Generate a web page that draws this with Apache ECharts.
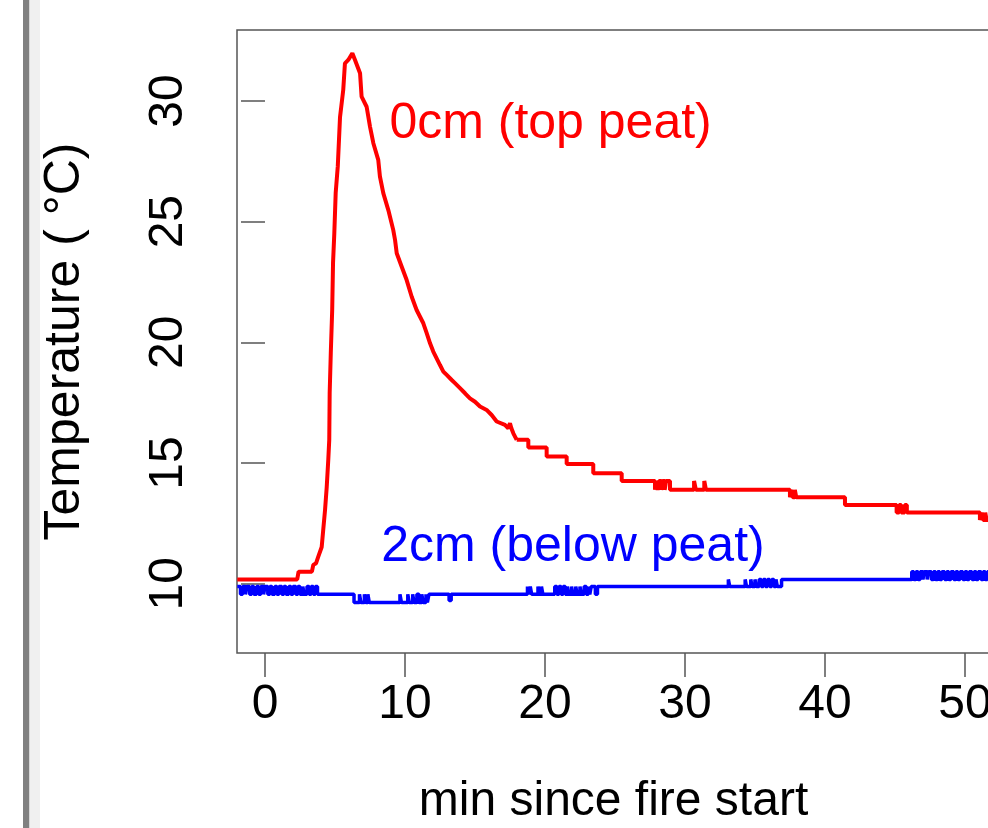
<!DOCTYPE html>
<html>
<head>
<meta charset="utf-8">
<script src="https://cdn.jsdelivr.net/npm/echarts@6/dist/echarts.min.js"></script>
<style>
  html, body { margin: 0; padding: 0; overflow: hidden; background: #ffffff; }
  #chart { width: 1000px; height: 828px; }
</style>
</head>
<body>
<div id="chart"></div>
<script>
// Peat surface (0 cm) temperature, [minutes since fire start, °C]:
// warm-up, flame peak and fast cooling
const topPeatRise = [
  [-1.98, 10.18], [2.30, 10.18], [2.40, 10.50], [3.35, 10.50], [3.45, 10.78],
  [3.65, 10.85], [3.80, 11.11], [4.05, 11.52], [4.16, 12.23], [4.29, 13.06],
  [4.41, 14.01], [4.52, 15.13], [4.59, 15.96], [4.62, 17.90], [4.70, 19.56],
  [4.80, 21.34], [4.86, 23.29], [4.95, 24.50], [5.05, 26.19], [5.20, 27.30],
  [5.36, 29.34], [5.59, 30.46], [5.71, 31.56], [5.95, 31.70], [6.24, 31.98],
  [6.43, 31.70], [6.79, 31.15], [6.90, 30.18], [7.26, 29.76], [7.50, 28.94],
  [7.74, 28.25], [8.09, 27.56], [8.21, 26.87], [8.45, 26.18], [8.81, 25.48],
  [9.16, 24.66], [9.29, 24.24], [9.41, 23.69], [9.76, 23.14], [10.12, 22.58],
  [10.48, 21.89], [10.83, 21.34], [11.31, 20.79], [11.55, 20.38], [11.79, 19.96],
  [12.02, 19.62], [12.26, 19.34], [12.50, 19.06], [12.74, 18.79], [12.98, 18.65],
  [13.34, 18.44], [13.57, 18.31], [13.93, 18.10], [14.29, 17.89], [14.64, 17.68],
  [15.00, 17.54], [15.36, 17.34], [15.83, 17.20], [16.19, 16.99], [16.55, 16.72],
  [17.14, 16.58], [17.38, 16.44], [17.50, 16.65], [17.60, 16.44], [17.74, 16.23],
  [17.98, 15.96]
];

// Peat surface (0 cm), slow cooling: logger steps, each value held until the next reading
const topPeatTail = [
  [17.98, 15.96], [18.81, 15.64], [20.12, 15.27], [21.55, 14.96], [23.45, 14.58],
  [25.48, 14.26], [27.86, 13.89], [27.95, 14.26], [28.05, 13.89], [28.15, 14.26],
  [28.30, 13.89], [28.40, 14.26], [28.55, 13.89], [28.65, 14.26], [28.93, 13.89],
  [30.65, 14.26], [30.78, 13.89], [31.38, 14.26], [31.50, 13.89],
  [37.50, 13.58], [37.60, 13.89], [37.70, 13.58], [37.85, 13.89], [37.95, 13.58],
  [41.43, 13.26], [45.12, 12.95], [45.30, 13.26], [45.45, 12.95], [45.70, 13.26],
  [45.85, 12.95], [51.07, 12.64], [51.20, 12.95], [51.30, 12.64], [51.45, 12.95],
  [51.55, 12.64], [51.79, 12.64]
];

// Mineral layer below the peat (2 cm), [minutes since fire start, °C]
const belowPeat = [
  [-1.98, 9.88], [-1.75, 9.56], [-1.60, 9.88], [-1.40, 9.56], [-1.30, 9.88],
  [-1.10, 9.56], [-0.95, 9.88], [-0.80, 9.56], [-0.60, 9.88], [-0.45, 9.56],
  [-0.30, 9.88], [-0.10, 9.56], [0.00, 9.88], [0.20, 9.56], [0.35, 9.88],
  [0.50, 9.56], [0.70, 9.88], [0.85, 9.56], [1.00, 9.88], [1.20, 9.56],
  [1.35, 9.88], [1.50, 9.56], [1.70, 9.88], [1.85, 9.56], [2.00, 9.88],
  [2.20, 9.56], [2.35, 9.88], [2.50, 9.56], [2.70, 9.88], [2.80, 9.56],
  [3.00, 9.88], [3.15, 9.56], [3.30, 9.88], [3.45, 9.56], [3.60, 9.88],
  [3.75, 9.56], [6.36, 9.22], [6.75, 9.56], [6.85, 9.22], [7.10, 9.56],
  [7.20, 9.22], [7.35, 9.56], [7.45, 9.22], [9.64, 9.56], [9.75, 9.22],
  [10.20, 9.56], [10.30, 9.22], [10.55, 9.56], [10.65, 9.22], [10.85, 9.56],
  [11.00, 9.22], [11.20, 9.56], [11.30, 9.22], [11.50, 9.56], [11.60, 9.22],
  [11.71, 9.56], [13.15, 9.30], [13.30, 9.56], [18.75, 9.88], [18.85, 9.56],
  [18.95, 9.88], [19.05, 9.56], [19.50, 9.88], [19.60, 9.56], [19.75, 9.88],
  [19.85, 9.56], [20.70, 9.88], [20.85, 9.56], [21.00, 9.88], [21.15, 9.56],
  [21.30, 9.88], [21.45, 9.56], [21.60, 9.88], [21.70, 9.56], [21.90, 9.88],
  [22.00, 9.56], [22.20, 9.88], [22.30, 9.56], [22.50, 9.88], [22.60, 9.56],
  [22.80, 9.88], [22.95, 9.56], [23.10, 9.88], [23.20, 9.56], [23.30, 9.88],
  [23.60, 9.56], [23.75, 9.88], [33.10, 10.18], [33.20, 9.88], [34.30, 10.18],
  [34.40, 9.88], [34.70, 10.18], [34.80, 9.88], [35.00, 10.18], [35.10, 9.88],
  [35.30, 10.18], [35.45, 9.88], [35.60, 10.18], [35.75, 9.88], [35.90, 10.18],
  [36.05, 9.88], [36.20, 10.18], [36.35, 9.88], [36.50, 10.18], [36.60, 9.88],
  [36.90, 10.18], [46.20, 10.50], [46.35, 10.18], [46.50, 10.50], [46.65, 10.18],
  [46.80, 10.50], [47.00, 10.18], [47.10, 10.50], [47.30, 10.18], [47.40, 10.50],
  [47.60, 10.18], [47.75, 10.50], [47.90, 10.18], [48.05, 10.50], [48.20, 10.18],
  [48.35, 10.50], [48.55, 10.18], [48.70, 10.50], [48.85, 10.18], [49.00, 10.50],
  [49.20, 10.18], [49.35, 10.50], [49.50, 10.18], [49.65, 10.50], [49.85, 10.18],
  [50.00, 10.50], [50.15, 10.18], [50.30, 10.50], [50.50, 10.18], [50.65, 10.50],
  [50.80, 10.18], [50.95, 10.50], [51.15, 10.18], [51.30, 10.50], [51.45, 10.18],
  [51.60, 10.50], [51.79, 10.50]
];

// Axis ticks
const xTicks = [0, 10, 20, 30, 40, 50];
const yTicks = [10, 15, 20, 25, 30];

// In-plot series labels: [text, minutes, °C]
const topLabel = ['0cm (top peat)', 20.4, 29.05];
const belowLabel = ['2cm (below peat)', 22.0, 11.5];

const FONT = 'Liberation Sans, Arial, sans-serif';
const INK = '#555555';
const RED = '#ff0000';
const BLUE = '#0000ff';

const chart = echarts.init(document.getElementById('chart'), null, { renderer: 'canvas' });

function textSeries(lbl, color) {
  return {
    type: 'scatter',
    silent: true,
    symbol: 'circle',
    symbolSize: 1,
    itemStyle: { color: color, opacity: 0 },
    data: [[lbl[1], lbl[2]]],
    label: {
      show: true,
      position: 'inside',
      formatter: lbl[0],
      color: color,
      opacity: 1,
      textBorderWidth: 0,
      textBorderColor: 'transparent',
      fontFamily: FONT,
      fontSize: 50
    },
    z: 5
  };
}

chart.setOption({
  animation: false,
  backgroundColor: '#ffffff',
  graphic: [
    { type: 'rect', shape: { x: 23, y: 0, width: 6.5, height: 828 }, style: { fill: '#808080' }, silent: true },
    { type: 'rect', shape: { x: 29.5, y: 0, width: 10.5, height: 828 }, style: { fill: '#f0f0f0' }, silent: true }
  ],
  grid: {
    left: 237, top: 30, width: 753, height: 623,
    containLabel: false, outerBoundsMode: 'none',
    show: true, borderColor: INK, borderWidth: 1.5, backgroundColor: 'transparent'
  },
  xAxis: {
    type: 'value', min: -2, max: 51.79,
    axisLine: { show: false },
    splitLine: { show: false },
    axisTick: { show: true, length: 24, customValues: xTicks, lineStyle: { color: INK, width: 1.5 } },
    axisLabel: { customValues: xTicks, fontFamily: FONT, fontSize: 48, color: '#000', margin: 28 },
    name: 'min since fire start', nameLocation: 'middle', nameGap: 125,
    nameTextStyle: { fontFamily: FONT, fontSize: 48, color: '#000' }
  },
  yAxis: {
    type: 'value', min: 7.13, max: 32.94,
    axisLine: { show: false },
    splitLine: { show: false },
    axisTick: { show: true, length: 24, customValues: yTicks, lineStyle: { color: INK, width: 1.5 } },
    axisLabel: { customValues: yTicks, fontFamily: FONT, fontSize: 48, color: '#000', margin: 44, rotate: 90 },
    name: 'Temperature ( °C)', nameLocation: 'middle', nameGap: 147, nameRotate: 90,
    nameTextStyle: { fontFamily: FONT, fontSize: 50, color: '#000' }
  },
  series: [
    {
      name: '0cm (top peat)', type: 'line', data: topPeatRise,
      showSymbol: false, symbol: 'none',
      lineStyle: { color: RED, width: 4 }
    },
    {
      name: '0cm (top peat)', type: 'line', step: 'end', data: topPeatTail,
      showSymbol: false, symbol: 'none',
      lineStyle: { color: RED, width: 4 }
    },
    {
      name: '2cm (below peat)', type: 'line', step: 'end', data: belowPeat,
      showSymbol: false, symbol: 'none',
      lineStyle: { color: BLUE, width: 3.5 }
    },
    textSeries(topLabel, RED),
    textSeries(belowLabel, BLUE)
  ]
});
</script>
</body>
</html>
